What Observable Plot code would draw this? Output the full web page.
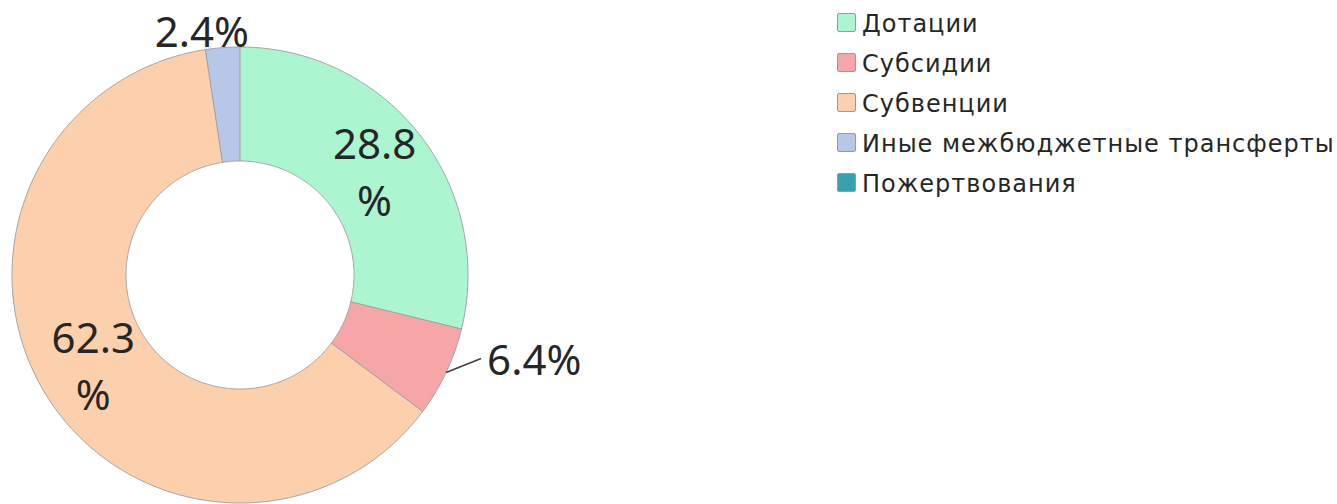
<!DOCTYPE html>
<html>
<head>
<meta charset="utf-8">
<script src="https://cdn.jsdelivr.net/npm/d3@7"></script>
<script src="https://cdn.jsdelivr.net/npm/@observablehq/plot@0.6"></script>
<style>
  html, body { margin: 0; padding: 0; background: #fff; }
  #wrap { position: relative; width: 1337px; height: 504px; overflow: hidden; }
  #legend { position: absolute; left: 837px; top: 0px; font-family: "DejaVu Sans", sans-serif; font-size: 24px; letter-spacing: 1px; color: #262626; }
  .row { position: absolute; left: 0; height: 20px; white-space: nowrap; }
  .sw { position: absolute; left: 0; width: 19px; height: 19px; border: 1px solid #9a9a9a; border-radius: 2px; box-sizing: border-box; }
  .lb { position: absolute; left: 25px; line-height: 24px; }
</style>
</head>
<body>
<div id="wrap"></div>
<script>
// ---- data ----
const categories = ["Дотации", "Субсидии", "Субвенции", "Иные межбюджетные трансферты", "Пожертвования"];
const shares = [28.8, 6.4, 62.3, 2.4, 0];
const labelTexts = ["28.8\n%", "6.4%", "62.3\n%", "2.4%", ""];
const colors = ["#acf5d1", "#f6a6a6", "#fcd0ad", "#b6c7e7", "#3aa0b0"];

// ---- layout ----
const W = 1337, H = 504;
const cx = 239.5, cy = 274.5, R = 228;
const innerR = 0.5;

const total = d3.sum(shares);
const pie = d3.pie().sort(null).value(d => d.value)(categories.map((name, i) => ({name, value: shares[i], label: labelTexts[i]})));

// polygon points for each annular sector
const pts = [];
for (const a of pie) {
  if (a.data.value <= 0) continue;
  const n = Math.max(4, Math.ceil((a.endAngle - a.startAngle) / 0.01));
  for (let k = 0; k <= n; k++) {
    const t = a.startAngle + (a.endAngle - a.startAngle) * k / n;
    pts.push({name: a.data.name, x: Math.sin(t), y: Math.cos(t)});
  }
  for (let k = n; k >= 0; k--) {
    const t = a.startAngle + (a.endAngle - a.startAngle) * k / n;
    pts.push({name: a.data.name, x: innerR * Math.sin(t), y: innerR * Math.cos(t)});
  }
}

// labels
const inside = [], outsideTop = [], leader = [], outsideSide = [];
for (const a of pie) {
  if (!a.data.label) continue;
  const m = (a.startAngle + a.endAngle) / 2;
  const frac = a.data.value / total;
  if (frac > 0.1) {
    inside.push({text: a.data.label, x: 0.75 * Math.sin(m), y: 0.75 * Math.cos(m)});
  } else if (Math.abs(Math.sin(m)) < 0.3) {
    const r = 1.06;
    outsideTop.push({text: a.data.label, x: r * Math.sin(m), y: r * Math.cos(m)});
  } else {
    const x1 = Math.sin(m), y1 = Math.cos(m);
    const x2 = x1 + 35 / R, y2 = y1 + 14 / R;
    leader.push({x1, y1, x2, y2});
    outsideSide.push({text: a.data.label, x: x2, y: y2});
  }
}

const font = "'Noto Sans', sans-serif";
const plot = Plot.plot({
  width: W, height: H, margin: 0,
  x: {domain: [-1, 1], range: [cx - R, cx + R], axis: null},
  y: {domain: [-1, 1], range: [cy + R, cy - R], axis: null},
  color: {domain: categories, range: colors},
  style: {background: "transparent", overflow: "visible"},
  marks: [
    Plot.line(pts, {x: "x", y: "y", z: "name", fill: "name", stroke: "#a3a3a3", strokeWidth: 1, curve: "linear-closed"}),
    Plot.link(leader, {x1: "x1", y1: "y1", x2: "x2", y2: "y2", stroke: "#404040", strokeWidth: 1.5}),
    Plot.text(inside, {x: "x", y: "y", text: "text", fontSize: 42, fontFamily: font, fill: "#262626", lineHeight: 1.36}),
    Plot.text(outsideTop, {x: "x", y: "y", text: "text", fontSize: 42, fontFamily: font, fill: "#262626", dx: -20}),
    Plot.text(outsideSide, {x: "x", y: "y", text: "text", fontSize: 42, fontFamily: font, fill: "#262626", textAnchor: "start", dx: 6, dy: 3})
  ]
});

const wrap = document.getElementById("wrap");
wrap.appendChild(plot);

// legend
const legend = document.createElement("div");
legend.id = "legend";
categories.forEach((c, i) => {
  const row = document.createElement("div");
  row.className = "row";
  row.style.top = (13 + i * 40) + "px";
  const sw = document.createElement("div");
  sw.className = "sw";
  sw.style.background = colors[i];
  const lb = document.createElement("div");
  lb.className = "lb";
  lb.style.top = "-1px";
  lb.textContent = c;
  row.appendChild(sw);
  row.appendChild(lb);
  legend.appendChild(row);
});
wrap.appendChild(legend);
</script>
</body>
</html>
